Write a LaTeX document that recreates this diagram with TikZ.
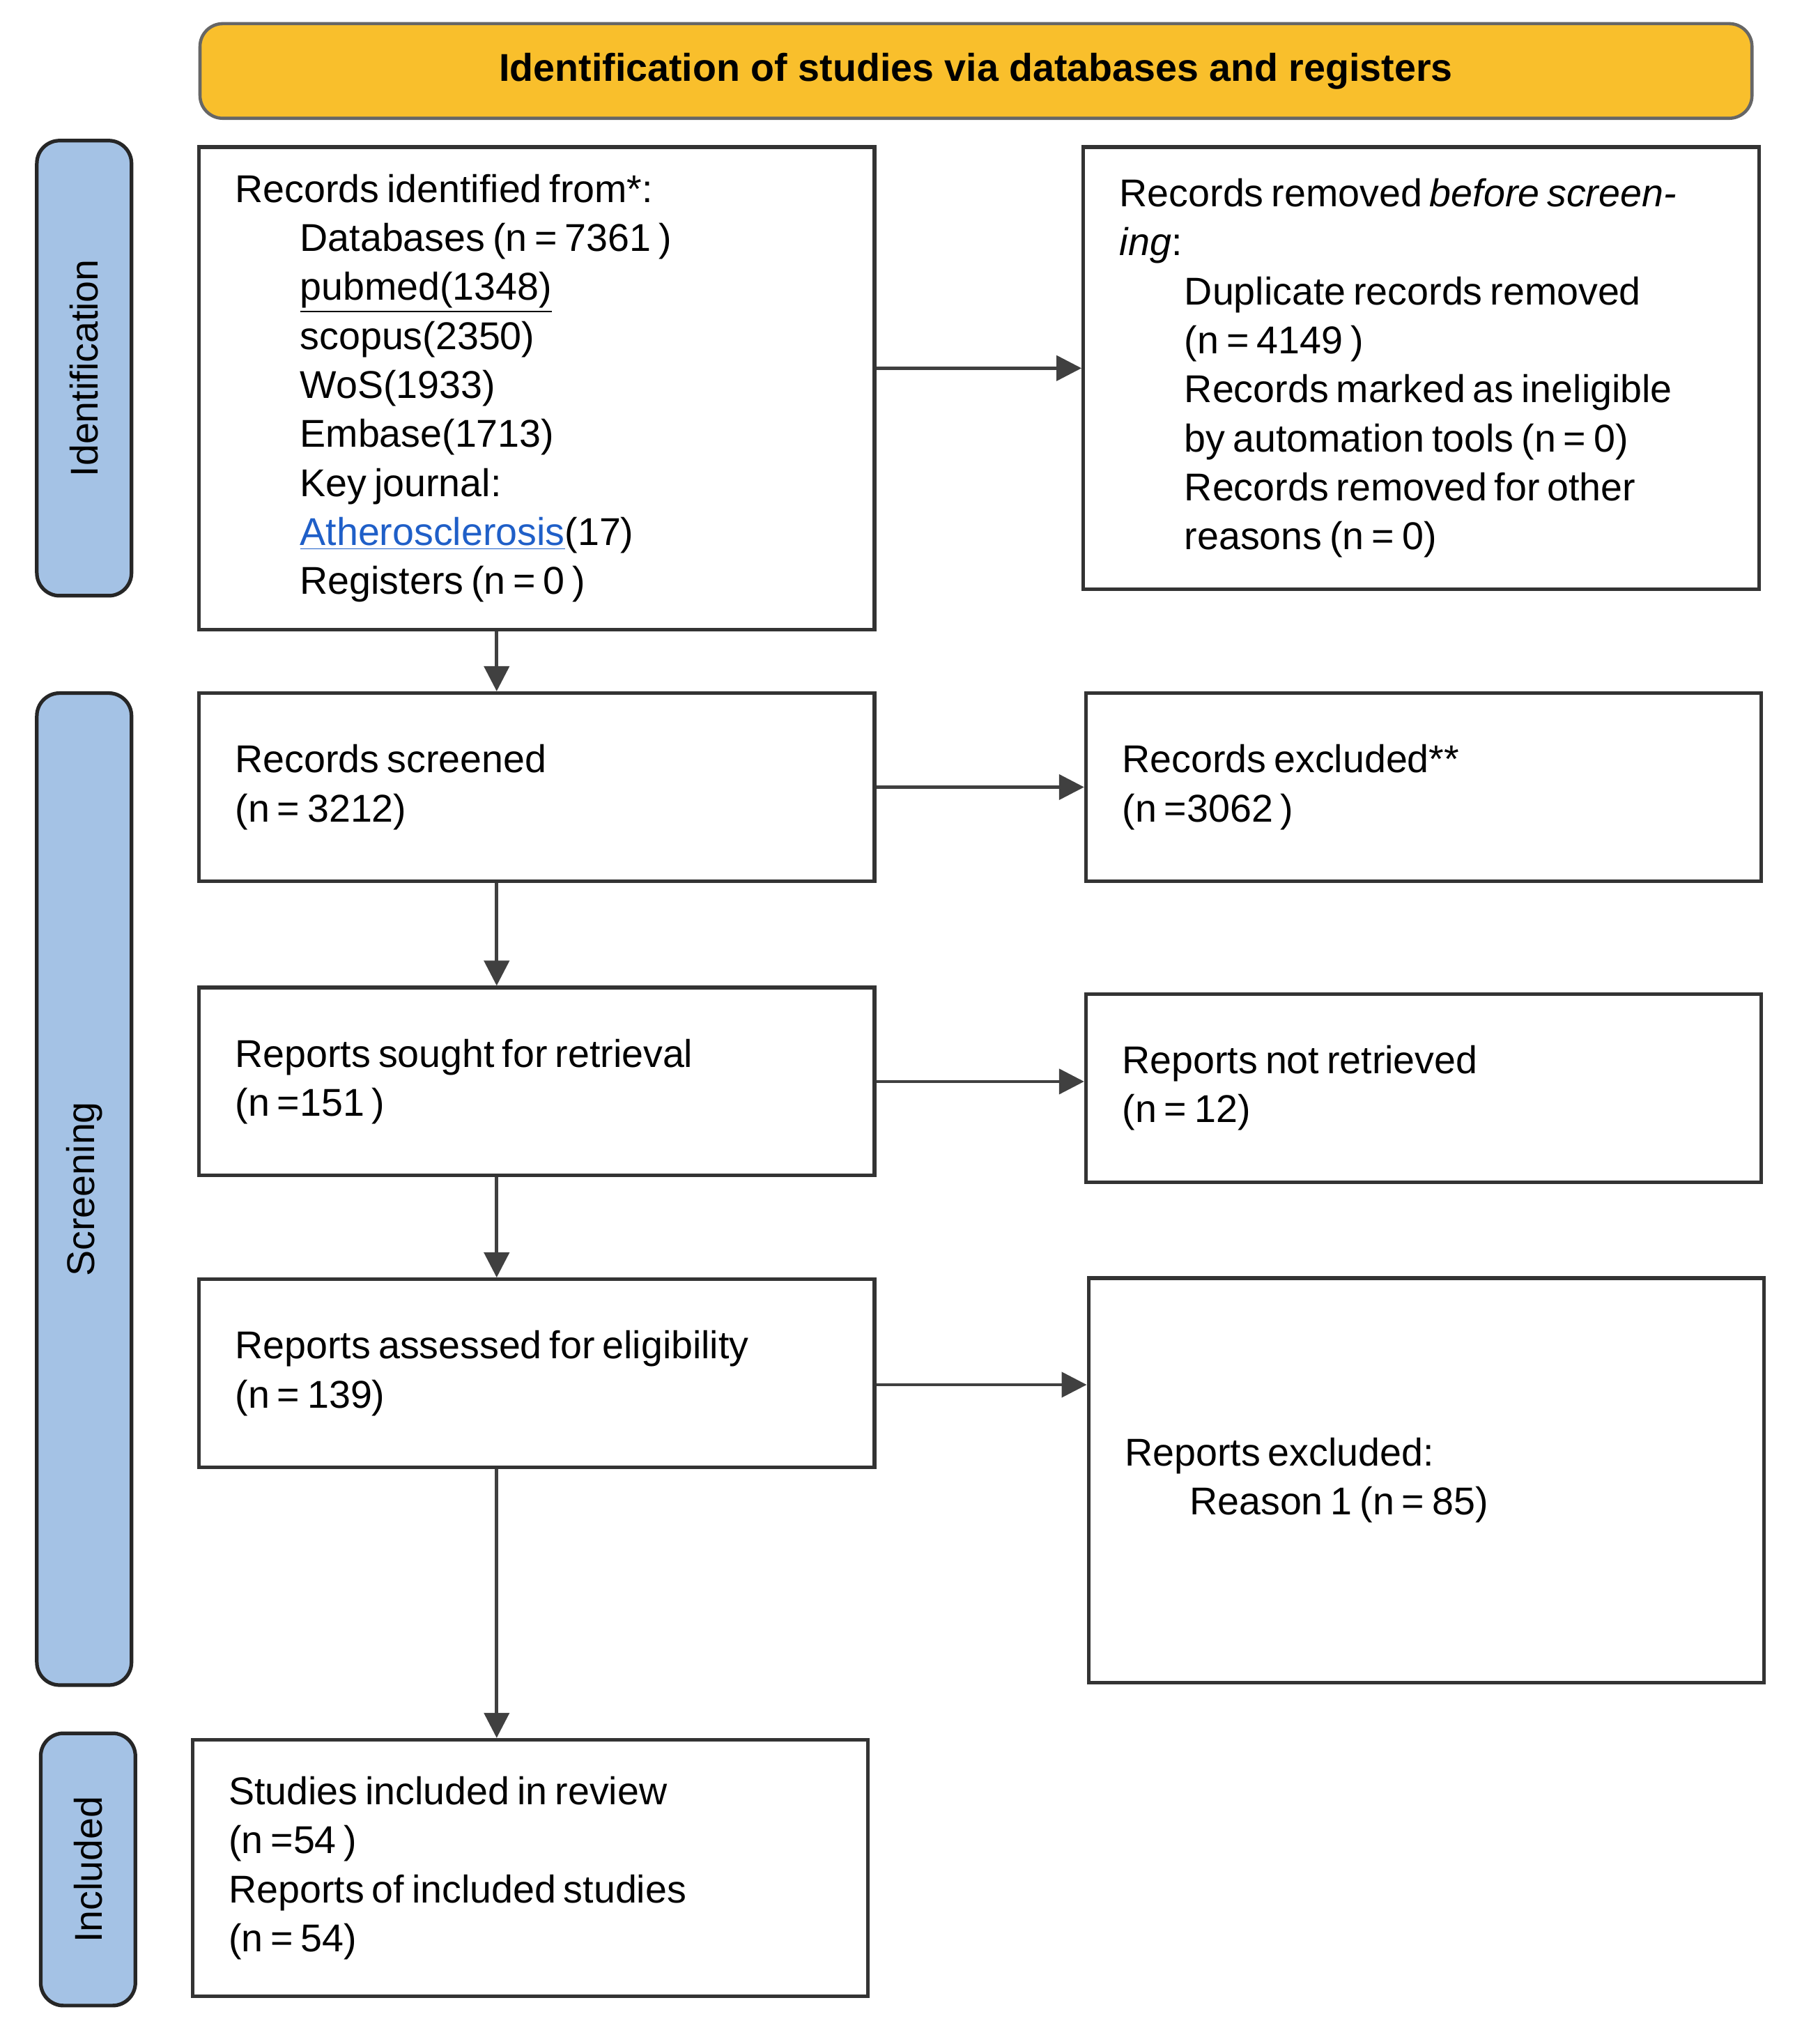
\documentclass[tikz,border=0pt]{standalone}
\usepackage{fontspec}
\setmainfont{Liberation Sans}
\usetikzlibrary{arrows.meta}
\definecolor{headorange}{HTML}{F9BF2C}
\definecolor{sideblue}{HTML}{A4C2E5}
\definecolor{linkblue}{HTML}{1F5FC8}
\tikzset{
  box/.style={draw=black!80, line width=1.6pt, anchor=north west, align=left,
    inner sep=0pt, text width=#1, execute at begin node={\fontsize{17}{21.5}\selectfont}},
  side/.style={draw=black!85, line width=1.6pt, fill=sideblue, rounded corners=10pt,
    anchor=north west, minimum width=1.46cm, inner sep=0pt},
  flow/.style={-{Triangle[length=11pt,width=11pt]}, line width=1.4pt, black!75}
}
\begin{document}
\begin{tikzpicture}[x=0.02cm,y=-0.02cm]
\useasboundingbox (0,0) rectangle (1384,1576);

% header
\node[draw=black!60, line width=1.4pt, fill=headorange, rounded corners=10pt, anchor=north west,
  minimum width=23.94cm, minimum height=1.46cm, font=\bfseries\fontsize{17}{20}\selectfont] (head) at (153,17)
  {Identification of studies via databases and registers};

% phase bars
\node[side, minimum height=7.02cm] (ident) at (27,107) {};
\node[rotate=90, font=\fontsize{17}{20}\selectfont] at (ident.center) {Identification};
\node[side, minimum height=15.3cm] (screen) at (27,533) {};
\node[rotate=90, font=\fontsize{17}{20}\selectfont] at (screen.center) {Screening};
\node[side, minimum height=4.2cm] (incl) at (30,1335) {};
\node[rotate=90, font=\fontsize{17}{20}\selectfont] at (incl.center) {Included};

% boxes
\node[box=9.3cm, minimum height=7.44cm, inner xsep=0.56cm] (id) at (152,112) {%
Records identified from*:\\
\hspace*{1cm}Databases (n = 7361 )\\
\hspace*{1cm}\underline{pubmed(1348)}\\
\hspace*{1cm}scopus(2350)\\
\hspace*{1cm}WoS(1933)\\
\hspace*{1cm}Embase(1713)\\
\hspace*{1cm}Key journal:\\
\hspace*{1cm}{\color{linkblue}\underline{Atherosclerosis}}(17)\\
\hspace*{1cm}Registers (n = 0 )};
\node[box=9.3cm, minimum height=6.82cm, inner xsep=0.56cm] (rem) at (834,112) {%
Records removed \emph{before screening}:\\
\hspace*{1cm}Duplicate records removed\\
\hspace*{1cm}(n = 4149 )\\
\hspace*{1cm}Records marked as ineligible\\
\hspace*{1cm}by automation tools (n = 0)\\
\hspace*{1cm}Records removed for other\\
\hspace*{1cm}reasons (n = 0)};
\node[box=9.3cm, minimum height=2.9cm, inner xsep=0.56cm] (scr) at (152,533) {%
Records screened\\(n = 3212)};
\node[box=9.3cm, minimum height=2.9cm, inner xsep=0.56cm] (exc) at (836,533) {%
Records excluded**\\(n =3062 )};
\node[box=9.3cm, minimum height=2.9cm, inner xsep=0.56cm] (sought) at (152,760) {%
Reports sought for retrieval\\(n =151 )};
\node[box=9.3cm, minimum height=2.9cm, inner xsep=0.56cm] (notret) at (836,765) {%
Reports not retrieved\\(n = 12)};
\node[box=9.3cm, minimum height=2.9cm, inner xsep=0.56cm] (elig) at (152,985) {%
Reports assessed for eligibility\\(n = 139)};
\node[box=9.3cm, minimum height=6.24cm, inner xsep=0.56cm] (repexc) at (838,984) {%
Reports excluded:\\
\hspace*{1cm}Reason 1 (n = 85)\\[1.6cm]};
\node[box=9.3cm, minimum height=3.96cm, inner xsep=0.56cm] (stud) at (147,1340) {%
Studies included in review\\(n =54 )\\Reports of included studies\\(n = 54)};

% connectors
\coordinate (spine) at (383,0);
\draw[flow] (id.east |- rem.west) -- (rem.west);
\draw[flow] (scr.east) -- (exc.west);
\draw[flow] (sought.east) -- (sought.east -| notret.west);
\draw[flow] ([yshift=-5]elig.east) -- ([yshift=-5]elig.east -| repexc.west);
\draw[flow] (id.south -| spine) -- (scr.north -| spine);
\draw[flow] (scr.south -| spine) -- (sought.north -| spine);
\draw[flow] (sought.south -| spine) -- (elig.north -| spine);
\draw[flow] (elig.south -| spine) -- (stud.north -| spine);
\end{tikzpicture}
\end{document}
